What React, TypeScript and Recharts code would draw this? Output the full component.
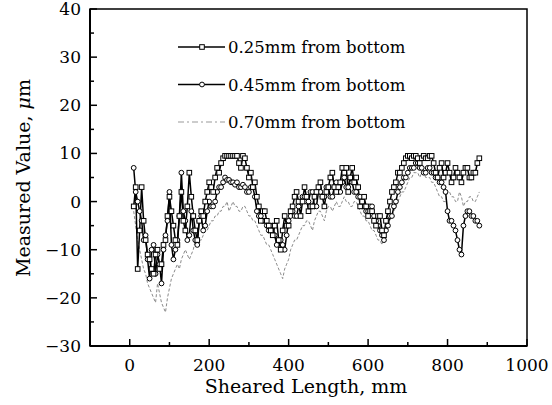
import { LineChart, Line, XAxis, YAxis, ReferenceArea } from 'recharts';

const lengths = [
  10, 15, 20, 25, 30, 35, 40, 45, 50, 55, 60, 65, 70, 75, 80, 85, 90, 95, 100, 105,
  110, 115, 120, 125, 130, 135, 140, 145, 150, 155, 160, 165, 170, 175, 180, 185, 190, 195, 200, 205,
  210, 215, 220, 225, 230, 235, 240, 245, 250, 255, 260, 265, 270, 275, 280, 285, 290, 295, 300, 305,
  310, 315, 320, 325, 330, 335, 340, 345, 350, 355, 360, 365, 370, 375, 380, 385, 390, 395, 400, 405,
  410, 415, 420, 425, 430, 435, 440, 445, 450, 455, 460, 465, 470, 475, 480, 485, 490, 495, 500, 505,
  510, 515, 520, 525, 530, 535, 540, 545, 550, 555, 560, 565, 570, 575, 580, 585, 590, 595, 600, 605,
  610, 615, 620, 625, 630, 635, 640, 645, 650, 655, 660, 665, 670, 675, 680, 685, 690, 695, 700, 705,
  710, 715, 720, 725, 730, 735, 740, 745, 750, 755, 760, 765, 770, 775, 780, 785, 790, 795, 800, 805,
  810, 815, 820, 825, 830, 835, 840, 845, 850, 855, 860, 865, 870, 875, 880,
];

// 0.25mm from bottom (square markers)
const bottom025 = [
  -1, 3, -14, -6, 3, -4, -8, -11, -12, -14, -15, -11, -10, -14, -13, -9, -8, -3, 1, -2,
  -5, -8, -9, -3, 2, -4, -6, -1, 6, 1, -3, -6, -8, -4, -2, -3, 0, 2, 4, 3,
  2, 5, 7, 6, 8, 9, 9.5, 9.5, 9.5, 9.5, 9.5, 9.5, 9.5, 8, 7, 9.5, 9, 7, 5, 6,
  3, 4, 1, -1, -4, -2, -2, -4, -5, -6, -7, -5, -4, -8, -10, -6, -3, -5, -5, -2,
  -1, 1, 2, 0, -3, 0, 3, 1, -2, -1, -1, 1, 2, 3, 4, 1, -1, 2, 3, 5,
  6, 3, 2, 3, 4, 7, 6, 7, 2, 5, 7, 4, 5, 3, -1, 0, 1, -1, -3, -2,
  -2, -4, -5, -3, -3, -6, -7, -4, -2, 0, 2, 3, 4, 6, 6, 7, 8, 9, 9.5, 9.5,
  9, 9.5, 9.5, 9, 8, 9, 9.5, 9, 9, 9.5, 9.5, 8, 6, 5, 7, 8, 5, 6, 8, 6,
  4, 5, 7, 6, 5, 4, 6, 7, 7, 5, 5, 6, 6, 8, 9,
];

// 0.45mm from bottom (circle markers)
const bottom045 = [
  7, 2, 0, -2, -4, -8, -7, -12, -16, -10, -9, -15, -11, -13, -17, -10, -7, -4, 2, -9,
  -12, -10, -8, -3, 6, -2, -4, -8, -7, -2, -6, -8, -9, -4, -3, -6, -5, -2, 0, -1,
  -1, 0, 2, 3, 3, 4, 5, 4.5, 4.5, 4, 4, 3.5, 4, 3, 3, 3.5, 3, 2, 2, 3,
  3, 1, -2, -3, -3, -4, -4, -5, -6, -5, -5, -7, -9, -8, -8, -9, -10, -7, -4, -3,
  -2, -3, -3, -1, 0, 1, 1, 0, 0, 2, 2, -1, -1, 2, 2, 1, 1, 3, 3, 1,
  1, 3, 4, 2, 2, 4, 5, 3, 3, 5, 4, 2, 2, 1, 1, -1, -1, -2, -2, -1,
  -1, -3, -4, -5, -6, -7, -8, -6, -5, -3, -3, -1, 0, 2, 3, 4, 5, 5, 6, 7,
  7, 7, 8, 8, 7, 7, 6, 6, 7, 7, 6, 6, 5, 5, 4, 4, 3, 2, -2, -4,
  -4, -5, -6, -8, -10, -11, -5, -3, -2, -2, -3, -3, -4, -4, -5,
];

// 0.70mm from bottom (grey dashed, no markers)
const bottom070 = [
  -2, -5, -8, -10, -12, -14, -15, -17, -18, -19, -20, -21, -17, -19, -21, -22, -23, -20, -18, -16,
  -15, -14, -13, -14, -12, -11, -10, -11, -12, -11, -10, -8, -7, -8, -8, -7, -6, -6, -5, -4,
  -4, -3, -3, -2, -2, -1, -1, 0, -2, -1, 0, -1, -1, -2, -2, -1, -1, -2, -3, -3,
  -4, -4, -5, -6, -7, -7, -8, -9, -9, -10, -11, -12, -13, -14, -15, -16, -14, -13, -12, -10,
  -9, -8, -8, -7, -6, -5, -5, -4, -4, -5, -6, -4, -3, -2, -2, -3, -4, -2, -1, -1,
  -2, -1, 0, -1, -1, 0, 1, 0, 0, -1, -1, 0, 0, -1, -2, -3, -3, -4, -4, -5,
  -6, -6, -7, -8, -8, -9, -7, -6, -5, -4, -3, -2, -1, 0, 1, 2, 2, 3, 4, 5,
  5, 6, 6, 6, 5, 6, 6, 5, 5, 5, 4, 4, 3, 2, 1, 1, 0, 0, 2, 2,
  1, 1, 0, 0, 2, 1, -1, 0, 0, 1, 1, 0, 0, 1, 2,
];

const xTicks = [0, 100, 200, 300, 400, 500, 600, 700, 800, 900, 1000];
const yTicks = [-30, -25, -20, -15, -10, -5, 0, 5, 10, 15, 20, 25, 30, 35, 40];

const seriesNames = ['0.25mm from bottom', '0.45mm from bottom', '0.70mm from bottom'];

const data = lengths.map((x, i) => ({
  x,
  a: bottom025[i],
  b: bottom045[i],
  c: bottom070[i],
}));

const FONT = '"DejaVu Serif", "Liberation Serif", serif';

const XTick = (props: any) => {
  const { x, y, payload } = props;
  const major = payload.value % 200 === 0;
  return (
    <g>
      <line x1={x} x2={x} y1={y} y2={y - (major ? 7 : 4)} stroke="#000" strokeWidth={1.5} />
      {major && (
        <text x={x} y={y + 25} textAnchor="middle" fontFamily={FONT} fontSize={17} fill="#000">
          {payload.value}
        </text>
      )}
    </g>
  );
};

const YTick = (props: any) => {
  const { x, y, payload } = props;
  const major = payload.value % 10 === 0;
  const label = payload.value < 0 ? `\u2212${Math.abs(payload.value)}` : `${payload.value}`;
  return (
    <g>
      <line x1={x} x2={x + (major ? 7 : 4)} y1={y} y2={y} stroke="#000" strokeWidth={1.5} />
      {major && (
        <text x={x - 9} y={y + 6} textAnchor="end" fontFamily={FONT} fontSize={17} fill="#000">
          {label}
        </text>
      )}
    </g>
  );
};

const SquareDot = (props: any) => {
  const { cx, cy, index } = props;
  if (cx == null || cy == null) return <g key={`s-${index}`} />;
  return (
    <rect key={`s-${index}`} x={cx - 2.3} y={cy - 2.3} width={4.6} height={4.6} fill="#fff" stroke="#000" strokeWidth={1} />
  );
};

const LegendBox = () => (
  <svg width={260} height={110} style={{ position: 'absolute', left: 170, top: 35 }}>
    {seriesNames.map((name, i) => {
      const cy = 12 + i * 37.5;
      return (
        <g key={name}>
          <line
            x1={8}
            x2={55}
            y1={cy}
            y2={cy}
            stroke={i === 2 ? '#999' : '#000'}
            strokeWidth={i === 2 ? 1 : 1.5}
            strokeDasharray={i === 2 ? '6 3 2 3' : undefined}
          />
          {i === 0 && <rect x={29.7} y={cy - 2.3} width={4.6} height={4.6} fill="#fff" stroke="#000" />}
          {i === 1 && <circle cx={32} cy={cy} r={2.4} fill="#fff" stroke="#000" />}
          <text x={58} y={cy + 6} fontFamily={FONT} fontSize={16.5} fill="#000">
            {name}
          </text>
        </g>
      );
    })}
  </svg>
);

export default function App() {
  return (
    <div style={{ position: 'absolute', left: 0, top: 0, width: 552, height: 405, background: '#fff' }}>
      <LineChart width={552} height={405} data={data} margin={{ top: 9, right: 25, left: 0, bottom: 0 }}>
        <ReferenceArea x1={-100} x2={1000} y1={-30} y2={40} fill="none" stroke="#000" strokeWidth={1.5} />
        <XAxis
          dataKey="x"
          type="number"
          domain={[-100, 1000]}
          ticks={xTicks}
          interval={0}
          tickSize={0}
          tickMargin={0}
          tick={<XTick />}
          height={59}
          stroke="#000"
          strokeWidth={2}
          allowDataOverflow
          label={() => (
            <text x={306} y={393} textAnchor="middle" fontFamily={FONT} fontSize={19} fill="#000">
              Sheared Length, mm
            </text>
          )}
        />
        <YAxis
          type="number"
          domain={[-30, 40]}
          ticks={yTicks}
          interval={0}
          tickSize={0}
          tickMargin={0}
          tick={<YTick />}
          width={90}
          stroke="#000"
          strokeWidth={2}
          allowDataOverflow
          label={() => (
            <text
              x={30}
              y={178}
              transform="rotate(-90 30 178)"
              textAnchor="middle"
              fontFamily={FONT}
              fontSize={19}
              fill="#000"
            >
              Measured Value, <tspan fontStyle="italic">μ</tspan>m
            </text>
          )}
        />
        <Line
          dataKey="c"
          stroke="#8a8a8a"
          strokeWidth={1}
          strokeDasharray="3 2"
          dot={false}
          isAnimationActive={false}
        />
        <Line
          dataKey="b"
          stroke="#000"
          strokeWidth={1.5}
          dot={{ r: 2.4, fill: '#fff', stroke: '#000', strokeWidth: 1 }}
          isAnimationActive={false}
        />
        <Line
          dataKey="a"
          stroke="#000"
          strokeWidth={1.5}
          dot={<SquareDot />}
          isAnimationActive={false}
        />
      </LineChart>
      <LegendBox />
    </div>
  );
}
